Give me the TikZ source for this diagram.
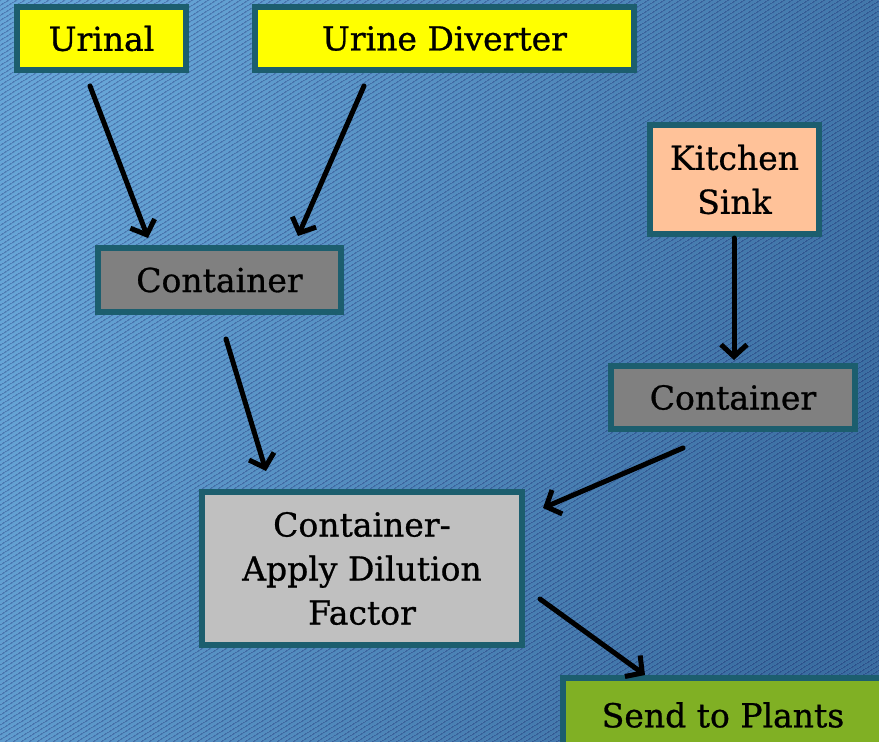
\documentclass[tikz,border=0pt]{standalone}
\usepackage{fontspec}
\setmainfont[FakeBold=0.8]{DejaVu Serif}
\usetikzlibrary{arrows.meta,patterns.meta}
\definecolor{bgL}{HTML}{66A6D8}
\definecolor{bgR}{HTML}{3A6EA2}
\definecolor{edge}{HTML}{1C5E6E}
\definecolor{yel}{HTML}{FFFF00}
\definecolor{grayA}{HTML}{808080}
\definecolor{grayB}{HTML}{C0C0C0}
\definecolor{peach}{HTML}{FFC299}
\definecolor{leaf}{HTML}{80B024}
\tikzset{
  box/.style={draw=edge, line width=6pt, rectangle, inner sep=0pt, align=center,
    font=\fontsize{33}{44}\selectfont, text=black},
  flow/.style={line width=5pt, line cap=round, draw=black,
    -{Straight Barb[length=12pt,width=26pt,line width=5pt]}}
}
\begin{document}
\begin{tikzpicture}[x=1pt,y=-1pt]
\useasboundingbox (0,0) rectangle (879,742);
\shade[shading=axis, left color=bgL, right color=bgR, shading angle=70] (0,0) rectangle (879,742);
\fill[pattern={Lines[angle=32,distance=4pt,line width=1.5pt]}, pattern color=black!70!blue, fill opacity=0.28] (0,0) rectangle (879,742);

\node[box, fill=yel, minimum width=169pt, minimum height=63pt] (urinal) at (101.5,38.5) {Urinal};
\node[box, fill=yel, minimum width=379pt, minimum height=63pt] (diverter) at (444.5,38.5) {Urine Diverter};
\node[box, fill=grayA, minimum width=243pt, minimum height=64pt] (cont1) at (219.5,280) {Container};
\node[box, fill=peach, minimum width=169pt, minimum height=109pt] (sink) at (734.5,179.5) {Kitchen\\Sink};
\node[box, fill=grayA, minimum width=244pt, minimum height=63pt] (cont2) at (733,397.5) {Container};
\node[box, fill=grayB, minimum width=320pt, minimum height=153pt] (dil) at (362,568.5) {Container-\\Apply Dilution\\Factor};
\node[box, fill=leaf, minimum width=321pt, minimum height=75pt] (send) at (723,715) {Send to Plants};

\coordinate (a1s) at (90,86);
\coordinate (a1e) at (148,238);
\coordinate (a2s) at (364,86);
\coordinate (a2e) at (298,236);
\coordinate (a3s) at (226,339);
\coordinate (a3e) at (266,471);
\coordinate (a4s) at (734,238);
\coordinate (a4e) at (734,360);
\coordinate (a5s) at (683,448);
\coordinate (a5e) at (543,508);
\coordinate (a6s) at (540,599);
\coordinate (a6e) at (645,675);

\draw[flow] (a1s) -- (a1e);
\draw[flow] (a2s) -- (a2e);
\draw[flow] (a3s) -- (a3e);
\draw[flow] (a4s) -- (a4e);
\draw[flow] (a5s) -- (a5e);
\draw[flow] (a6s) -- (a6e);
\end{tikzpicture}
\end{document}
